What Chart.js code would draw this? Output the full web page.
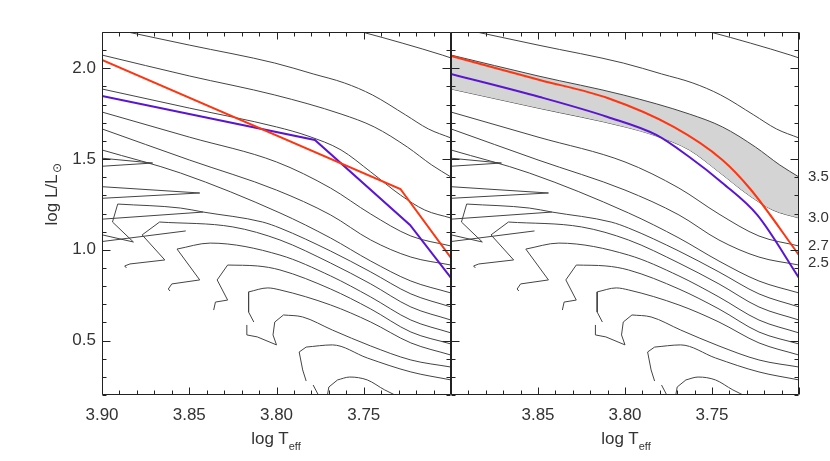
<!DOCTYPE html>
<html>
<head>
<meta charset="utf-8">
<script src="https://cdn.jsdelivr.net/npm/chart.js@4.4.0/dist/chart.umd.min.js"></script>
<style>
  body { margin: 0; background: #fff; width: 830px; height: 461px; overflow: hidden; position: relative;
         font-family: "Liberation Sans", Arial, sans-serif; }
  canvas { position: absolute; top: 0; }
  #left { left: 0; }
  #right { left: 440px; }
  .xt { position: absolute; top: 430px; font-size: 17px; line-height: 17px; color: #333; white-space: nowrap; transform: translateX(-50%); }
  .xt sub { font-size: 11px; vertical-align: -6px; }
</style>
</head>
<body>
<canvas id="left" width="452" height="461"></canvas>
<canvas id="right" width="390" height="461"></canvas>
<div class="xt" style="left:276px">log T<sub>eff</sub></div>
<div class="xt" style="left:626px">log T<sub>eff</sub></div>
<script>
// axis labels
const xLabelsLeft = [3.90, 3.85, 3.80, 3.75];
const xLabelsRight = [3.85, 3.80, 3.75];
const yLabels = [0.5, 1.0, 1.5, 2.0];
const massLabels = ["3.5", "3.0", "2.7", "2.5"];
const massLabelY = [1.401, 1.175, 1.021, 0.927];

// evolutionary tracks [log Teff, log L]
const trkA = [[3.758, 2.217], [3.751, 2.200], [3.728, 2.139], [3.705, 2.073], [3.700, 2.057]];
const trkB = [[3.900, 2.230], [3.850, 2.128], [3.801, 2.029], [3.779, 1.969], [3.761, 1.919], [3.745, 1.853], [3.726, 1.743], [3.713, 1.666], [3.700, 1.616]];
const trk35 = [[3.900, 2.073], [3.850, 1.958], [3.801, 1.853], [3.763, 1.748], [3.744, 1.677], [3.725, 1.566], [3.711, 1.467], [3.700, 1.401]];
const trk30 = [[3.900, 1.886], [3.850, 1.781], [3.800, 1.677], [3.782, 1.627], [3.763, 1.550], [3.746, 1.429], [3.729, 1.302], [3.715, 1.219], [3.700, 1.175]];
const trk27 = [[3.900, 1.759], [3.850, 1.621], [3.800, 1.484], [3.769, 1.340], [3.746, 1.197], [3.723, 1.076], [3.700, 1.021]];
const trk25 = [[3.900, 1.666], [3.850, 1.495], [3.800, 1.329], [3.769, 1.192], [3.746, 1.054], [3.723, 0.960], [3.700, 0.916]];
const trk7 = [[3.900, 1.550], [3.855, 1.423], [3.798, 1.203], [3.769, 1.065], [3.746, 0.938], [3.723, 0.828], [3.700, 0.762]];
const trk8 = [[3.891, 1.252], [3.855, 1.230], [3.842, 1.208], [3.808, 1.153], [3.798, 1.120], [3.769, 0.993], [3.746, 0.878], [3.723, 0.757], [3.700, 0.685]];
const trk9 = [[3.867, 1.153], [3.825, 1.126], [3.798, 1.054], [3.769, 0.927], [3.746, 0.812], [3.723, 0.685], [3.700, 0.613]];
const trk10 = [[3.857, 1.004], [3.838, 1.037], [3.798, 0.971], [3.769, 0.856], [3.746, 0.740], [3.723, 0.613], [3.700, 0.542]];
const trk11 = [[3.828, 0.916], [3.811, 0.911], [3.798, 0.889], [3.769, 0.784], [3.746, 0.674], [3.723, 0.547], [3.700, 0.481]];
const trk12 = [[3.816, 0.768], [3.805, 0.790], [3.798, 0.779], [3.769, 0.696], [3.746, 0.602], [3.723, 0.487], [3.700, 0.420]];
const trk13 = [[3.796, 0.641], [3.785, 0.630], [3.768, 0.558], [3.746, 0.470], [3.723, 0.393], [3.700, 0.354]];
const trk14 = [[3.783, 0.464], [3.768, 0.476], [3.748, 0.404], [3.723, 0.327], [3.700, 0.283]];
const trk15 = [[3.765, 0.283], [3.758, 0.299], [3.748, 0.283], [3.738, 0.228], [3.726, 0.172]];

// hooks near the main sequence
const hook7 = [[3.907, 1.511], [3.871, 1.478], [3.907, 1.456]];
const hook8a = [[3.907, 1.352], [3.844, 1.313], [3.907, 1.280]];
const hook8b = [[3.907, 1.164], [3.842, 1.208]];
const hook8c = [[3.891, 1.252], [3.894, 1.153], [3.882, 1.043], [3.907, 1.098]];
const hook9a = [[3.867, 1.153], [3.877, 1.082], [3.864, 0.944], [3.884, 0.922], [3.887, 0.911], [3.886, 0.900]];
const hook9b = [[3.907, 1.037], [3.852, 1.104]];
const hook10 = [[3.857, 1.004], [3.844, 0.834], [3.860, 0.812], [3.862, 0.784], [3.861, 0.773]];
const hook11 = [[3.828, 0.916], [3.834, 0.834], [3.828, 0.723], [3.835, 0.712], [3.836, 0.668]];
const hook12 = [[3.816, 0.768], [3.816, 0.657], [3.813, 0.602]];
const hook13 = [[3.796, 0.641], [3.801, 0.602], [3.802, 0.531], [3.800, 0.476], [3.811, 0.520], [3.817, 0.531], [3.817, 0.586]];
const hook14 = [[3.783, 0.464], [3.787, 0.437], [3.785, 0.338], [3.783, 0.277]];
const hook15a = [[3.765, 0.283], [3.770, 0.244], [3.771, 0.189]];
const hook15b = [[3.779, 0.255], [3.776, 0.200]];

// red and blue lines
const redLeft = [[3.900, 2.046], [3.729, 1.335], [3.700, 0.955]];
const blueLeft = [[3.900, 1.847], [3.778, 1.605], [3.7235, 1.137], [3.700, 0.845]];
const redRight = [[3.900, 2.068], [3.849, 1.936], [3.810, 1.836], [3.772, 1.677], [3.744, 1.495], [3.728, 1.335], [3.700, 0.971]];
const blueRight = [[3.900, 1.969], [3.849, 1.842], [3.810, 1.732], [3.782, 1.633], [3.763, 1.511], [3.744, 1.368], [3.724, 1.192], [3.700, 0.845]];

const bodies = [trkA, trkB, trk27, trk25, trk7, trk8, trk9, trk10, trk11, trk12, trk13, trk14, trk15];
const hooks = [hook7, hook8a, hook8b, hook8c, hook9a, hook9b, hook10, hook11, hook12, hook13, hook14, hook15a, hook15b];

const TRACK = "#444";
const RED = "#ff3410";
const BLUE = "#5a14d4";
const FONT = "'Liberation Sans', Arial, sans-serif";

function line(pts, color, width, smooth, order) {
    return {
        data: pts.map(p => ({ x: p[0], y: p[1] })),
        showLine: true,
        borderColor: color,
        borderWidth: width,
        pointRadius: 0,
        tension: smooth ? 0.4 : 0,
        cubicInterpolationMode: smooth ? "monotone" : "default",
        fill: false,
        order: order
    };
}

// frame with inward ticks on all four sides
const framePlugin = {
    id: "frame",
    afterDatasetsDraw(chart) {
        const { ctx, chartArea: a } = chart;
        const x = chart.scales.x, y = chart.scales.y;
        const L = Math.round(a.left) + 0.5, R = Math.round(a.right) - 0.5;
        const T = Math.round(a.top) + 0.5, B = Math.round(a.bottom) - 0.5;
        ctx.save();
        ctx.strokeStyle = "#222";
        ctx.lineWidth = 1;
        ctx.beginPath();
        ctx.rect(L, T, R - L, B - T);
        for (let i = 370; i <= 390; i++) {
            const px = Math.round(x.getPixelForValue(i / 100)) + 0.5;
            const len = i % 5 === 0 ? 7 : 4;
            ctx.moveTo(px, B); ctx.lineTo(px, B - len);
            ctx.moveTo(px, T); ctx.lineTo(px, T + len);
        }
        for (let i = 2; i <= 22; i++) {
            const py = Math.round(y.getPixelForValue(i / 10)) + 0.5;
            const len = i % 5 === 0 ? 8 : 4;
            ctx.moveTo(L, py); ctx.lineTo(L + len, py);
            ctx.moveTo(R, py); ctx.lineTo(R - len, py);
        }
        ctx.stroke();
        ctx.restore();
    }
};

// rotated y title with the solar subscript
const yTitlePlugin = {
    id: "yTitle",
    afterDraw(chart) {
        const ctx = chart.ctx;
        const main = "log L/L", sub = "⊙";
        ctx.save();
        ctx.translate(51, 195);
        ctx.rotate(-Math.PI / 2);
        ctx.fillStyle = "#333";
        ctx.textBaseline = "alphabetic";
        ctx.font = "17px " + FONT;
        const w1 = ctx.measureText(main).width;
        ctx.font = "12px " + FONT;
        const w2 = ctx.measureText(sub).width;
        const x0 = -(w1 + w2) / 2;
        ctx.font = "17px " + FONT;
        ctx.fillText(main, x0, 6);
        ctx.font = "12px " + FONT;
        ctx.fillText(sub, x0 + w1 + 1, 10);
        ctx.restore();
    }
};

const tickFont = { family: FONT, size: 17 };

function xScale(labels) {
    return {
        type: "linear", reverse: true, min: 3.70, max: 3.90,
        grid: { display: false, drawTicks: false }, border: { display: false },
        ticks: { font: tickFont, color: "#333", padding: 10, maxRotation: 0, autoSkip: false,
                 callback: v => v.toFixed(2) },
        afterBuildTicks: s => { s.ticks = labels.map(v => ({ value: v })); },
        afterFit: s => { s.height = 66; }
    };
}

// left panel
const leftSets = [];
bodies.concat([trk35, trk30]).forEach(t => leftSets.push(line(t, TRACK, 1, true, 2)));
hooks.forEach(h => leftSets.push(line(h, TRACK, 1, false, 2)));
leftSets.push(line(redLeft, RED, 2, false, 0));
leftSets.push(line(blueLeft, BLUE, 2, false, 0));

new Chart(document.getElementById("left"), {
    type: "scatter",
    data: { datasets: leftSets },
    options: {
        responsive: false, animation: false,
        layout: { padding: { left: 0, right: 1, top: 32, bottom: 0 } },
        plugins: { legend: { display: false }, tooltip: { enabled: false } },
        scales: {
            x: xScale(xLabelsLeft),
            y: {
                min: 0.2, max: 2.2,
                grid: { display: false, drawTicks: false }, border: { display: false },
                ticks: { font: tickFont, color: "#333", padding: 6, callback: v => v.toFixed(1) },
                afterBuildTicks: s => { s.ticks = yLabels.map(v => ({ value: v })); },
                afterFit: s => { s.width = 102; }
            }
        }
    },
    plugins: [framePlugin, yTitlePlugin]
});

// right panel: dense band of tracks between 3.5 and 3.0
const rightSets = [];
const band = line(trk35, TRACK, 1, true, 3);
band.fill = 1;
band.backgroundColor = "#d4d4d4";
rightSets.push(band);
rightSets.push(line(trk30, TRACK, 1, true, 3));
bodies.forEach(t => rightSets.push(line(t, TRACK, 1, true, 2)));
hooks.forEach(h => rightSets.push(line(h, TRACK, 1, false, 2)));
rightSets.push(line(redRight, RED, 2, true, 0));
rightSets.push(line(blueRight, BLUE, 2, true, 0));

new Chart(document.getElementById("right"), {
    type: "scatter",
    data: { datasets: rightSets },
    options: {
        responsive: false, animation: false,
        layout: { padding: { left: 11, right: 0, top: 32, bottom: 0 } },
        plugins: { legend: { display: false }, tooltip: { enabled: false } },
        scales: {
            x: xScale(xLabelsRight),
            y: { display: false, min: 0.2, max: 2.2 },
            y2: {
                position: "right", min: 0.2, max: 2.2,
                grid: { display: false, drawTicks: false }, border: { display: false },
                ticks: { font: { family: FONT, size: 15 }, color: "#333", padding: 9,
                         callback: (v, i) => massLabels[i] },
                afterBuildTicks: s => { s.ticks = massLabelY.map(v => ({ value: v })); },
                afterFit: s => { s.width = 31; }
            }
        }
    },
    plugins: [framePlugin]
});
</script>
</body>
</html>
